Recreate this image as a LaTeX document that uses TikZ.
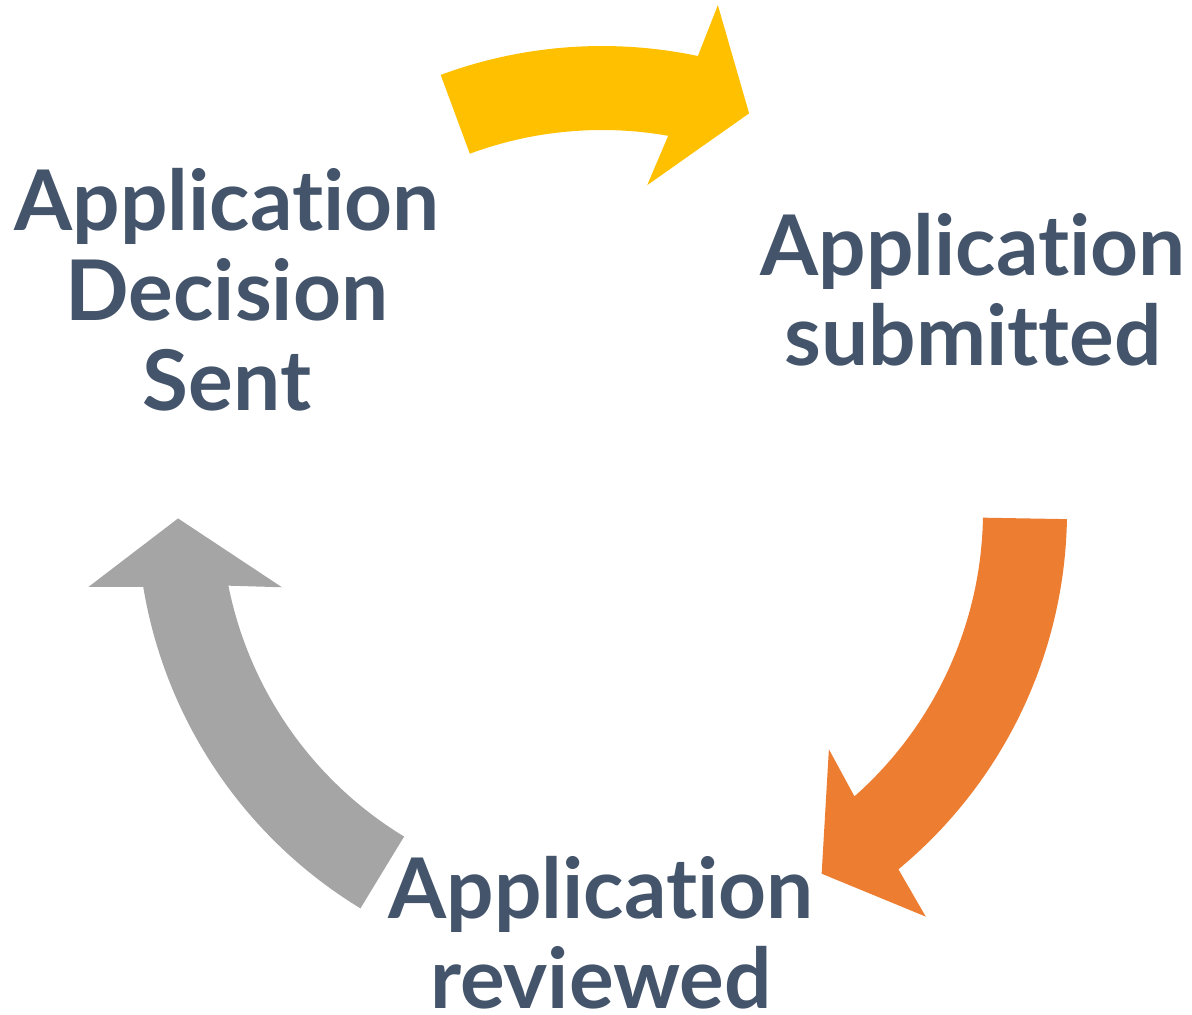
\documentclass[tikz,border=0pt]{standalone}
\usepackage{fontspec}
\setmainfont{Lato}[Ligatures=NoCommon]
\definecolor{cycleyellow}{HTML}{FFC000}
\definecolor{cycleorange}{HTML}{ED7D31}
\definecolor{cyclegray}{HTML}{A5A5A5}
\definecolor{labeltext}{HTML}{44546A}

\begin{document}
\begin{tikzpicture}[x=0.01cm, y=-0.01cm,
    steplabel/.style={text=labeltext, font=\fontsize{23.8}{25.5}\selectfont\bfseries,
        align=center, anchor=base, inner sep=0pt}]
    \useasboundingbox (0,0) rectangle (1192,1014);
    % three curved arrows round one centre
    \begin{scope}[shift={(602,511)}]
        \foreach \t/\s/\c in {-110.3/-78.1/cycleyellow, 1/50.4/cycleorange, 121.3/170.6/cyclegray}
            \fill[\c] (\t:465) arc[start angle=\t, end angle=\s, radius=465]
                -- ({\s+1}:519) -- ({\s+8.4}:424) -- ({\s-4}:329) -- ({\s-1.9}:381)
                arc[start angle={\s-1.9}, end angle=\t, radius=381] -- cycle;
    \end{scope}
    % labels, placed by the baseline of their last line
    \node[steplabel] (sent) at (227,410) {Application\\Decision\\Sent};
    \node[steplabel] (submitted) at (973,365) {Application\\submitted};
    \node[steplabel] (reviewed) at (601,1008) {Application\\reviewed};
\end{tikzpicture}
\end{document}
